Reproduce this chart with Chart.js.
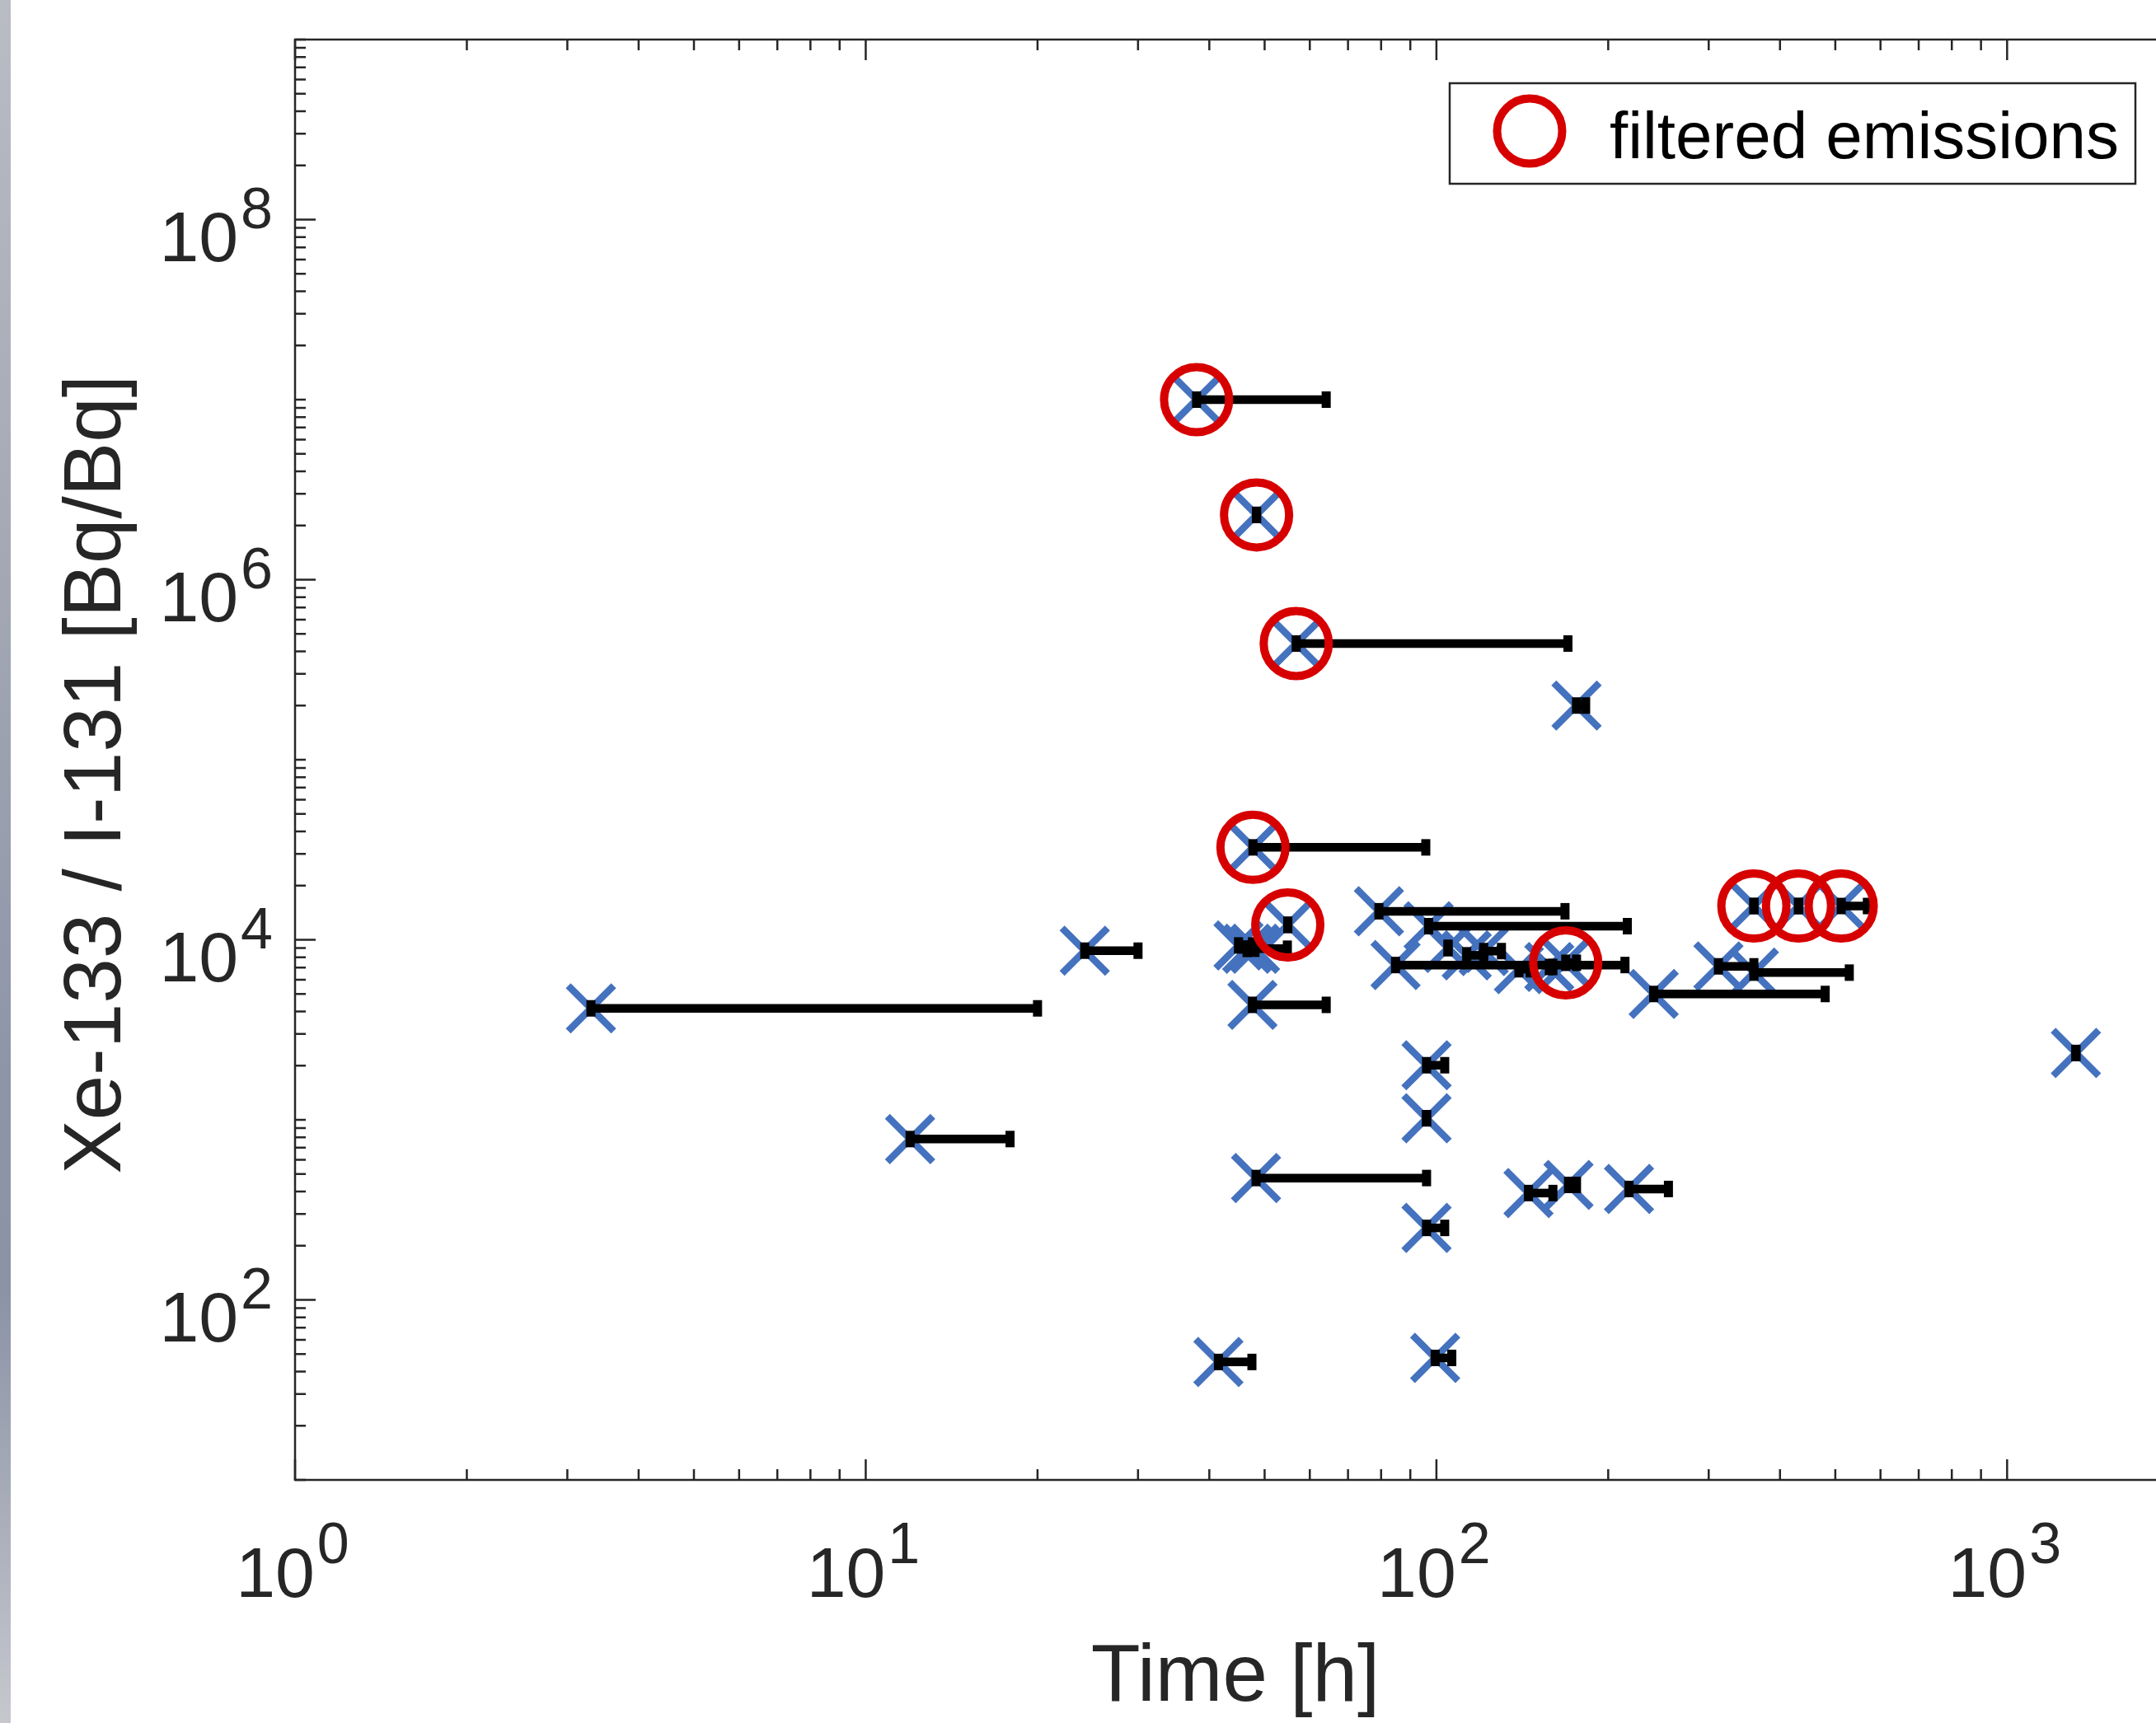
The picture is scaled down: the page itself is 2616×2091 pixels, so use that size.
<!DOCTYPE html>
<html>
<head>
<meta charset="utf-8">
<script src="https://cdn.jsdelivr.net/npm/chart.js@4.4.1/dist/chart.umd.min.js"></script>
<style>
html,body{margin:0;padding:0;background:#fff;overflow:hidden;width:2616px;height:2091px;}
#wrap{position:relative;width:2616px;height:2091px;overflow:hidden;background:#fff;}
#c{position:absolute;left:0;top:0;}
#strip{position:absolute;left:0;top:0;width:13px;height:2091px;
 background:linear-gradient(to bottom,#b9bcc3 0%,#a4a8b4 33%,#8e95a8 62%,#8c93a6 75%,#aeb2bd 90%,#c6c8ce 100%);}
</style>
</head>
<body>
<div id="wrap"><canvas id="c" width="2640" height="2091"></canvas><div id="strip"></div></div>
<script>
// ---- data ----
const times    = [3.30, 11.96, 24.2, 38.0, 48.4, 56.8, 176, 47.7, 54.9, 45.0, 46.6, 48.1, 47.6, 79.3, 96.9, 84.8, 104.8, 113, 121, 139.5, 157.7, 168.5, 96.1, 96.1, 48.3, 96.1, 41.5, 99.5, 145, 170.4, 217.5, 240.3, 312, 360, 360, 431, 512, 1320];
const ratios   = [4160, 782, 8700, 1.0e7, 2.29e6, 4.42e5, 2.0e5, 3.26e4, 1.21e4, 9300, 8920, 8920, 4350, 14400, 11900, 7240, 9000, 8200, 8650, 6860, 7060, 7450, 2010, 1020, 475, 251, 45.2, 47.6, 392, 435, 413, 5000, 7120, 6570, 15400, 15400, 15400, 2350];
const timeEnds = [20.0, 17.9, 30.0, 64.1, 48.4, 170, 182.6, 95.8, 54.9, 47.6, 46.6, 54.8, 64.1, 168, 216, 214, 104.8, 121, 130, 146, 160, 176, 103.4, 96.1, 96.1, 103.4, 47.5, 106.4, 160, 176, 255, 480, 360, 529, 360, 431, 569, 1320];
const filteredIdx = [3, 4, 5, 7, 8, 21, 34, 35, 36];

const xTickValues = [1, 10, 100, 1000];
const xTickLabels = ['10^0', '10^1', '10^2', '10^3'];
const yTickValues = [1e2, 1e4, 1e6, 1e8];
const yTickLabels = ['10^2', '10^4', '10^6', '10^8'];
const xLimits = [1, 1975];
const yLimits = [10, 1e9];
const xTitle = 'Time [h]';
const yTitle = 'Xe-133 / I-131 [Bq/Bq]';
const legendLabel = 'filtered emissions';

// ---- styles ----
const FONT = '"Liberation Sans", Arial, Helvetica, sans-serif';
const AXIS = '#262626';
const BLUE = '#4472BE';
const RED = '#D70000';

const pts = times.map((t, i) => ({x: t, y: ratios[i]}));
const datasets = [];
datasets.push({
  type: 'scatter', label: legendLabel,
  data: filteredIdx.map(i => ({x: times[i], y: ratios[i]})),
  pointStyle: 'circle', pointRadius: 39.5, borderWidth: 10,
  borderColor: RED, backgroundColor: 'rgba(0,0,0,0)', order: 0
});
const caps = [];
times.forEach((t, i) => { caps.push({x: t, y: ratios[i]}); caps.push({x: timeEnds[i], y: ratios[i]}); });
datasets.push({
  type: 'scatter', label: 'caps', data: caps,
  pointStyle: 'line', pointRotation: 90, pointRadius: 10, borderWidth: 11,
  borderColor: '#000', backgroundColor: '#000', order: 1
});
times.forEach((t, i) => {
  if (timeEnds[i] > t) {
    datasets.push({
      type: 'line', label: 'bar' + i,
      data: [{x: t, y: ratios[i]}, {x: timeEnds[i], y: ratios[i]}],
      borderColor: '#000', borderWidth: 10.5, pointRadius: 0, fill: false,
      borderCapStyle: 'butt', order: 2
    });
  }
});
datasets.push({
  type: 'scatter', label: 'data', data: pts,
  pointStyle: 'crossRot', pointRadius: 39, borderWidth: 8.5,
  borderColor: BLUE, backgroundColor: BLUE, order: 3
});

function splitPow(s) { const p = s.split('^'); return {base: p[0], exp: p[1]}; }

const decor = {
  id: 'decor',
  afterDraw(chart) {
    const ctx = chart.ctx, a = chart.chartArea, xs = chart.scales.x, ys = chart.scales.y;
    ctx.save();
    ctx.strokeStyle = AXIS; ctx.lineWidth = 2.5; ctx.lineCap = 'butt';
    // axis box (left, bottom, top; right side lies outside the view)
    ctx.beginPath();
    ctx.moveTo(a.right + 5, a.top); ctx.lineTo(a.left, a.top);
    ctx.lineTo(a.left, a.bottom); ctx.lineTo(a.right + 5, a.bottom);
    ctx.stroke();
    // x ticks (bottom and top, inward)
    ctx.beginPath();
    for (let d = 0; d <= 4; d++) {
      for (let k = 1; k <= 9; k++) {
        const v = k * Math.pow(10, d);
        if (v < xLimits[0] || v > xLimits[1]) continue;
        const px = xs.getPixelForValue(v);
        const len = xTickValues.includes(v) ? 25 : 13;
        ctx.moveTo(px, a.bottom); ctx.lineTo(px, a.bottom - len);
        ctx.moveTo(px, a.top); ctx.lineTo(px, a.top + len);
      }
    }
    // y ticks (left, inward)
    for (let d = 1; d <= 9; d++) {
      for (let k = 1; k <= 9; k++) {
        const v = k * Math.pow(10, d);
        if (v < yLimits[0] || v > yLimits[1]) continue;
        const py = ys.getPixelForValue(v);
        const len = yTickValues.includes(v) ? 25 : 13;
        ctx.moveTo(a.left, py); ctx.lineTo(a.left + len, py);
      }
    }
    ctx.stroke();

    // tick labels with superscripts
    ctx.fillStyle = AXIS; ctx.textBaseline = 'alphabetic'; ctx.textAlign = 'left';
    const bigF = '86px ' + FONT, smallF = '70px ' + FONT, gap = 3;
    xTickValues.forEach((v, i) => {
      const {base, exp} = splitPow(xTickLabels[i]);
      const px = xs.getPixelForValue(v);
      ctx.font = bigF; const w1 = ctx.measureText(base).width;
      ctx.font = smallF; const w2 = ctx.measureText(exp).width;
      const x0 = px - (w1 + gap + w2) / 2 - 3;
      ctx.font = bigF; ctx.fillText(base, x0, a.bottom + 142);
      ctx.font = smallF; ctx.fillText(exp, x0 + w1 + gap, a.bottom + 101);
    });
    yTickValues.forEach((v, i) => {
      const {base, exp} = splitPow(yTickLabels[i]);
      const py = ys.getPixelForValue(v);
      ctx.font = bigF; const w1 = ctx.measureText(base).width;
      ctx.font = smallF; const w2 = ctx.measureText(exp).width;
      const xr = a.left - 27;
      const x0 = xr - w2 - gap - w1;
      ctx.font = bigF; ctx.fillText(base, x0, py + 50.5);
      ctx.font = smallF; ctx.fillText(exp, x0 + w1 + gap, py + 10.5);
    });

    // y axis title
    ctx.save();
    ctx.translate(a.left - 239, (a.top + a.bottom) / 2 + 18);
    ctx.rotate(-Math.PI / 2);
    ctx.textAlign = 'center'; ctx.textBaseline = 'middle';
    ctx.font = '98px ' + FONT; ctx.fillStyle = AXIS;
    ctx.fillText(yTitle, 0, 0);
    ctx.restore();

    // legend
    const lx = a.right - 49 - 832, ly = a.top + 53, lw = 832, lh = 122;
    ctx.fillStyle = '#fff';
    ctx.fillRect(lx, ly, lw, lh);
    ctx.strokeStyle = AXIS; ctx.lineWidth = 2.5;
    ctx.strokeRect(lx, ly, lw, lh);
    ctx.strokeStyle = RED; ctx.lineWidth = 10;
    ctx.beginPath(); ctx.arc(lx + 97, ly + 58, 39.5, 0, Math.PI * 2); ctx.stroke();
    ctx.fillStyle = '#000'; ctx.font = '80px ' + FONT;
    ctx.fillText(legendLabel, lx + 194, ly + 91);
    ctx.restore();
  }
};

new Chart(document.getElementById('c'), {
  type: 'scatter',
  data: {datasets},
  options: {
    responsive: false, animation: false, devicePixelRatio: 1, events: [],
    layout: {autoPadding: false, padding: {left: 358, right: 0, top: 48, bottom: 0}},
    plugins: {legend: {display: false}, tooltip: {enabled: false}},
    scales: {
      x: {
        type: 'logarithmic', min: xLimits[0], max: xLimits[1],
        grid: {display: false, drawTicks: false}, border: {display: false},
        ticks: {display: false},
        title: {display: true, text: xTitle, color: AXIS,
          font: {family: FONT, size: 98, lineHeight: 1}, padding: {top: 192, bottom: 5}}
      },
      y: {
        type: 'logarithmic', min: yLimits[0], max: yLimits[1],
        grid: {display: false, drawTicks: false}, border: {display: false},
        ticks: {display: false},
        title: {display: false, text: yTitle}
      }
    }
  },
  plugins: [decor]
});
</script>
</body>
</html>
